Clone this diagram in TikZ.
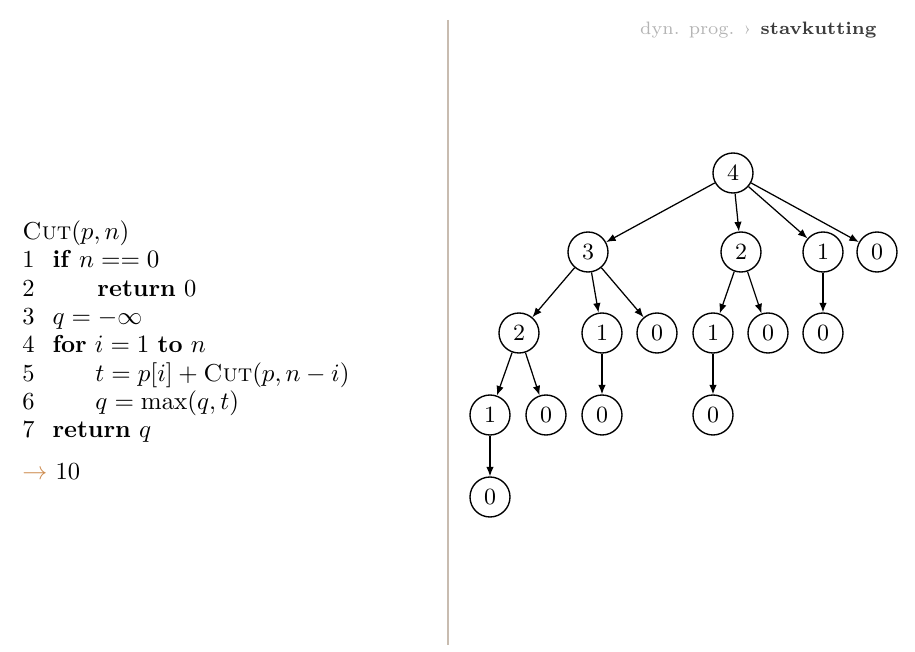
\documentclass[tikz,border=0pt]{standalone}
\usetikzlibrary{arrows.meta}
\definecolor{rulecol}{RGB}{200,188,176}
\definecolor{arrcol}{RGB}{205,140,80}
\definecolor{hdrgray}{RGB}{180,180,180}
\definecolor{hdrdark}{RGB}{60,60,60}
\begin{document}
\begin{tikzpicture}[x=0.4pt,y=-0.4pt,
  tn/.style={circle,draw,line width=0.55pt,minimum size=16pt,inner sep=0pt,font=\fontsize{9.3}{11}\selectfont},
  ed/.style={line width=0.5pt,-{Latex[length=3.8pt,width=3pt]}},
  code/.style={anchor=base west,inner sep=0pt,font=\fontsize{9.8}{11}\selectfont},
  hdr/.style={anchor=base east,inner sep=0pt,font=\fontsize{7.2}{9}\selectfont}]
\useasboundingbox (0,0) rectangle (915,652);
% separator
\draw[rulecol,line width=1pt] (448,20) -- (448,645);
% header
\node[hdr] (hdr) at (877,35) {\textcolor{hdrgray}{dyn. prog. ›} \textcolor{hdrdark}{\textbf{stavkutting}}};
% code
\node[code] (l0) at (22,240) {\textsc{Cut}$(p,n)$};
\node[code] (n1) at (22,268) {1};
\node[code] (c1) at (52,268) {\textbf{if} $n \mathrel{==} 0$};
\node[code] (n2) at (22,297) {2};
\node[code] (c2) at (97,297) {\textbf{return} 0};
\node[code] (n3) at (22,325) {3};
\node[code] (c3) at (52,325) {$q = -\infty$};
\node[code] (n4) at (22,353) {4};
\node[code] (c4) at (52,353) {\textbf{for} $i = 1$ \textbf{to} $n$};
\node[code] (n5) at (22,382) {5};
\node[code] (c5) at (95,382) {$t = p[i] + \textsc{Cut}(p, n-i)$};
\node[code] (n6) at (22,410) {6};
\node[code] (c6) at (95,410) {$q = \max(q,t)$};
\node[code] (n7) at (22,438) {7};
\node[code] (c7) at (52,438) {\textbf{return} $q$};
\node[code] (res) at (22,480) {\textcolor{arrcol}{$\rightarrow$} 10};
% tree
\node[tn] (a) at (733,173) {4};
\node[tn] (b1) at (588,252) {3};
\node[tn] (b2) at (741,252) {2};
\node[tn] (b3) at (823,252) {1};
\node[tn] (b4) at (877,252) {0};
\node[tn] (c11) at (519,333) {2};
\node[tn] (c12) at (602,333) {1};
\node[tn] (c13) at (657,333) {0};
\node[tn] (c21) at (713,333) {1};
\node[tn] (c22) at (768,333) {0};
\node[tn] (c31) at (823,333) {0};
\node[tn] (d1) at (490,415) {1};
\node[tn] (d2) at (546,415) {0};
\node[tn] (d3) at (602,415) {0};
\node[tn] (d4) at (713,415) {0};
\node[tn] (e1) at (490,497) {0};
\draw[ed] (a) -- (b1);
\draw[ed] (a) -- (b2);
\draw[ed] (a) -- (b3);
\draw[ed] (a) -- (b4);
\draw[ed] (b1) -- (c11);
\draw[ed] (b1) -- (c12);
\draw[ed] (b1) -- (c13);
\draw[ed] (b2) -- (c21);
\draw[ed] (b2) -- (c22);
\draw[ed] (b3) -- (c31);
\draw[ed] (c11) -- (d1);
\draw[ed] (c11) -- (d2);
\draw[ed] (c12) -- (d3);
\draw[ed] (c21) -- (d4);
\draw[ed] (d1) -- (e1);
\end{tikzpicture}
\end{document}
